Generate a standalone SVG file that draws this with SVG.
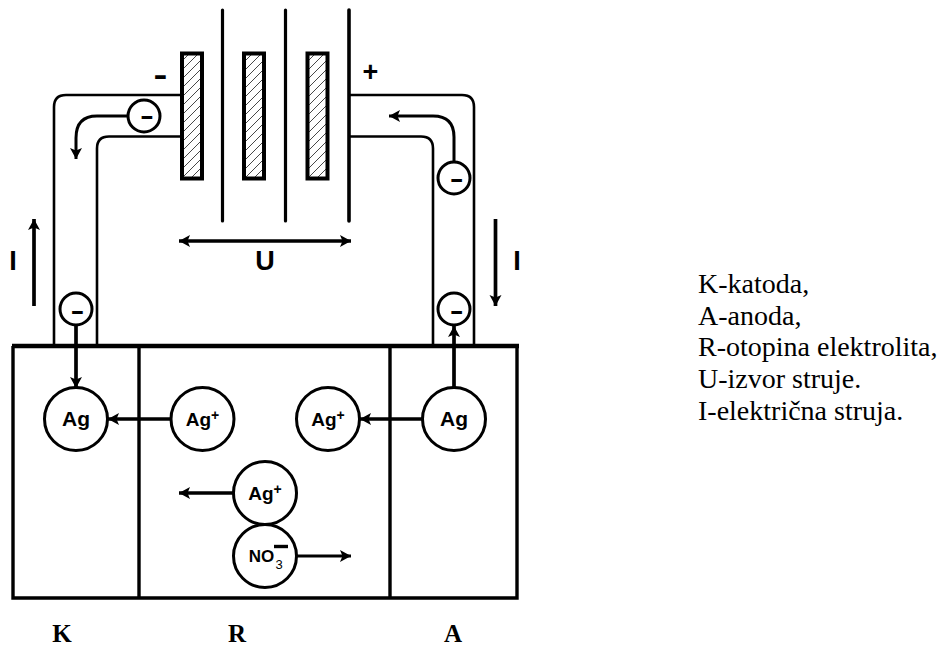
<svg xmlns="http://www.w3.org/2000/svg" width="940" height="648" viewBox="0 0 940 648">
<style>
.w{fill:none;stroke:#000;stroke-width:2.6}
.a{fill:none;stroke:#000;stroke-width:3;marker-end:url(#ah)}
.b{fill:none;stroke:#000;stroke-width:3.7;marker-end:url(#ah)}
.p{fill:none;stroke:#000;stroke-width:3.2;stroke-linecap:round}
.n{fill:#fff;stroke:#000;stroke-width:3}
.pl{fill:url(#hatch);stroke:#000;stroke-width:4}
.box{fill:none;stroke:#000;stroke-width:3.4}
.s{font-family:"Liberation Sans",Arial,sans-serif;font-weight:700;fill:#000;text-anchor:middle}
.t{font-family:"Liberation Serif","Times New Roman",serif;fill:#000}
.ag{font-size:21px}
.io{font-size:19px}
.sup{font-size:14px}
.m{font-size:26px}
.lab{font-size:27px}
.bl{font-size:25px;font-weight:700;text-anchor:middle}
.lg{font-size:28px}
</style>
<defs>
<pattern id="hatch" width="9" height="9" patternUnits="userSpaceOnUse">
<path d="M-2 11L11 -2M-2 2L2 -2M7 11L11 7" stroke="#333" stroke-width="0.9" fill="none"/>
</pattern>
<marker id="ah" markerUnits="userSpaceOnUse" markerWidth="14" markerHeight="14" refX="11" refY="6" orient="auto-start-reverse">
<path d="M0 0L11 6L0 12L2.500 6Z" fill="#000"/>
</marker>
</defs>
<g id="connectors">
<path class="w" d="M180 95H66Q54 95 54 107V346"/>
<path class="w" d="M180 136.500H109Q97 136.500 97 148.500V346"/>
<path class="w" d="M349 95H462Q474 95 474 107V346"/>
<path class="w" d="M349 136.500H421Q433 136.500 433 148.500V346"/>
<path class="a" d="M128 116H97Q76 116 76 138V159"/>
<path class="a" d="M454 162V137Q454 116 433 116H389"/>
<path class="b" d="M76 325V388"/>
<path class="b" d="M454 388V326"/>
<path class="b" d="M171 419H108"/>
<path class="b" d="M422 419H360"/>
<path class="b" d="M233 493H179"/>
<path class="a" d="M297 556H351"/>
<path class="b" d="M34 306V219"/>
<path class="b" d="M495.500 219V306"/>
<path d="M179 241H351" fill="none" stroke="#000" stroke-width="3.400" marker-start="url(#ah)" marker-end="url(#ah)"/>
</g>
<g id="plates">
<rect class="pl" x="182" y="53.500" width="20" height="125"/>
<rect class="pl" x="244" y="53.500" width="20" height="125"/>
<rect class="pl" x="307.500" y="53.500" width="20" height="125"/>
<path class="p" d="M222.500 10V221"/>
<path class="p" d="M285.500 10V221"/>
<path class="p" style="stroke-width:3.600" d="M349 10V221"/>
</g>
<g id="cell">
<path class="box" d="M139 346V598M390 346V598M13 346V598H517V346"/>
<path d="M12 346H519" stroke="#000" stroke-width="4.400" fill="none"/>
</g>
<g id="e1"><circle class="n" cx="144" cy="116" r="16"/><text class="s m" transform="translate(147 124.300) scale(1.6 1)">-</text></g>
<g id="e2"><circle class="n" cx="454" cy="178" r="16"/><text class="s m" transform="translate(456.700 187) scale(1.6 1)">-</text></g>
<g id="e3"><circle class="n" cx="76" cy="309" r="16"/><text class="s m" transform="translate(77.500 318.700) scale(1.6 1)">-</text></g>
<g id="e4"><circle class="n" cx="454" cy="309" r="16"/><text class="s m" transform="translate(456.700 318.700) scale(1.6 1)">-</text></g>
<g id="ag-k"><circle class="n" cx="76" cy="419" r="31.500"/><text class="s ag" x="76" y="426">Ag</text></g>
<g id="ag-a"><circle class="n" cx="454" cy="419" r="31.500"/><text class="s ag" x="454" y="426">Ag</text></g>
<g id="ion1"><circle class="n" cx="202.500" cy="419" r="31.500"/><text class="s io" x="202.500" y="426">Ag<tspan class="sup" dy="-6">+</tspan></text></g>
<g id="ion2"><circle class="n" cx="328" cy="419" r="31.500"/><text class="s io" x="328" y="426">Ag<tspan class="sup" dy="-6">+</tspan></text></g>
<g id="ion3"><circle class="n" cx="265" cy="493" r="31.500"/><text class="s io" x="265" y="500">Ag<tspan class="sup" dy="-6">+</tspan></text></g>
<g id="ion4"><circle class="n" cx="265" cy="556" r="31.500"/><text class="s" font-size="17" x="261.500" y="561.500">NO</text><text class="s" font-size="13" style="font-weight:400" x="279" y="568.500">3</text><path d="M274 546.500H288" stroke="#000" stroke-width="3.400"/></g>
<g id="labels">
<text class="s" font-size="32" transform="translate(160.500 84.600) scale(1.3 1)">-</text>
<text class="s" font-size="27" x="370.500" y="81">+</text>
<text class="s lab" x="13" y="270">I</text>
<text class="s lab" x="517" y="270">I</text>
<text class="s lab" x="265" y="270">U</text>
<text class="t bl" x="62" y="642.400">K</text>
<text class="t bl" x="237" y="642.400">R</text>
<text class="t bl" x="453" y="642.400">A</text>
</g>
<g id="legend">
<text class="t lg" x="698" y="293">K-katoda,</text>
<text class="t lg" x="698" y="325">A-anoda,</text>
<text class="t lg" x="698" y="356">R-otopina elektrolita,</text>
<text class="t lg" x="698" y="388">U-izvor struje.</text>
<text class="t lg" x="698" y="420">I-električna struja.</text>
</g>
</svg>
